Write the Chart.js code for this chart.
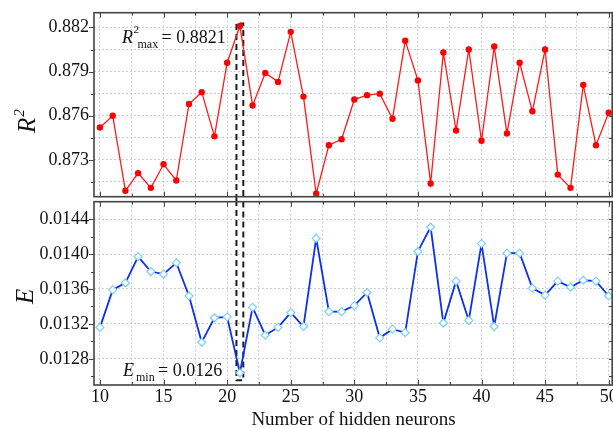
<!DOCTYPE html>
<html><head><meta charset="utf-8">
<script src="https://cdn.jsdelivr.net/npm/chart.js@4.4.0/dist/chart.umd.min.js"></script>
<style>
html,body{margin:0;padding:0;background:#fff;}
#wrap{position:relative;width:613px;height:428px;overflow:hidden;}
#c1{position:absolute;left:0;top:0;}
#c2{position:absolute;left:0;top:200px;}
</style></head><body>
<div id="wrap"><canvas id="c1" width="613" height="200"></canvas><canvas id="c2" width="613" height="228"></canvas></div>
<script>
const neurons = [10,11,12,13,14,15,16,17,18,19,20,21,22,23,24,25,26,27,28,29,30,31,32,33,34,35,36,37,38,39,40,41,42,43,44,45,46,47,48,49,50];
const r2Values = [0.8752,0.8760,0.8709,0.8721,0.8711,0.8727,0.8716,0.8768,0.8776,0.8746,0.8796,0.8821,0.8767,0.8789,0.8783,0.8817,0.8773,0.8707,0.8740,0.8744,0.8771,0.8774,0.8775,0.8758,0.8811,0.8784,0.8714,0.8803,0.8750,0.8805,0.8743,0.8807,0.8748,0.8796,0.8763,0.8805,0.8720,0.8711,0.8781,0.8740,0.8762];
const eValues = [0.01316,0.01359,0.01367,0.01397,0.01380,0.01377,0.01390,0.01352,0.01299,0.01327,0.01328,0.01264,0.01339,0.01307,0.01316,0.01333,0.01317,0.01418,0.01334,0.01334,0.01341,0.01356,0.01304,0.01314,0.01310,0.01403,0.01431,0.01321,0.01369,0.01324,0.01412,0.01317,0.01401,0.01401,0.01361,0.01353,0.01369,0.01362,0.01370,0.01369,0.01352];
const xTickLabels = [10,15,20,25,30,35,40,45,50];
const xGridValues = [10,12.5,15,17.5,20,22.5,25,27.5,30,32.5,35,37.5,40,42.5,45,47.5,50];
const r2TickLabels = [0.873,0.876,0.879,0.882];
const r2GridValues = [0.8715,0.873,0.8745,0.876,0.8775,0.879,0.8805,0.882];
const eTickLabels = [0.0128,0.0132,0.0136,0.0140,0.0144];
const eMinorValues = [0.0126,0.0130,0.0134,0.0138,0.0142];
const r2MaxText = '0.8821';
const eMinText = '0.0126';
const xTitle = 'Number of hidden neurons';

const FONT = 'Liberation Serif';
const GRID = '#c2d2d2';
const FRAME = '#444';
const bestIdx = r2Values.indexOf(Math.max(...r2Values));
const bestX = neurons[bestIdx];
const minIdx = eValues.indexOf(Math.min(...eValues));

function isIn(list, v){ return list.some(t => Math.abs(t - v) < 1e-9); }

function frameTicks(chart, yMajor, yMinor){
  const {ctx, chartArea:a, scales:{x, y}} = chart;
  ctx.save();
  ctx.strokeStyle = FRAME; ctx.lineWidth = 1;
  ctx.beginPath();
  xGridValues.forEach(v => {
    const px = Math.round(x.getPixelForValue(v)) + 0.5;
    const len = isIn(xTickLabels, v) ? 5 : 3;
    ctx.moveTo(px, a.bottom); ctx.lineTo(px, a.bottom - len);
    ctx.moveTo(px, a.top); ctx.lineTo(px, a.top + len);
  });
  const yt = yMajor.map(v => [v, 5]).concat(yMinor.map(v => [v, 3]));
  yt.forEach(([v, len]) => {
    const py = Math.round(y.getPixelForValue(v)) + 0.5;
    if (py < a.top - 1 || py > a.bottom + 1) return;
    ctx.moveTo(a.left, py); ctx.lineTo(a.left - len, py);
    ctx.moveTo(a.right, py); ctx.lineTo(a.right - 4, py);
  });
  ctx.stroke();
  ctx.lineWidth = 1.6;
  ctx.strokeRect(a.left, a.top, a.right - a.left - 0.8, a.bottom - a.top);
  ctx.restore();
}

function dashed(ctx, pts){
  ctx.save();
  ctx.strokeStyle = '#1e1e1e'; ctx.lineWidth = 2; ctx.setLineDash([6, 4]);
  ctx.beginPath();
  ctx.moveTo(pts[0][0], pts[0][1]);
  for (let i = 1; i < pts.length; i++) ctx.lineTo(pts[i][0], pts[i][1]);
  ctx.stroke();
  ctx.restore();
}

const topPlugin = {
  id: 'topDeco',
  beforeDatasetsDraw(chart){
    const {x, y} = chart.scales;
    const l = x.getPixelForValue(bestX - 0.27), r = x.getPixelForValue(bestX + 0.27);
    const t = y.getPixelForValue(r2Values[bestIdx]) - 2.5;
    dashed(chart.ctx, [[l, chart.height], [l, t], [r, t], [r, chart.height]]);
  },
  afterDraw(chart){
    frameTicks(chart, r2TickLabels, r2GridValues.filter(v => !isIn(r2TickLabels, v)));
    const ctx = chart.ctx;
    ctx.save();
    ctx.fillStyle = '#111'; ctx.textBaseline = 'alphabetic'; ctx.textAlign = 'left';
    ctx.font = 'italic 18px ' + FONT; ctx.fillText('R', 122, 43);
    ctx.font = '11px ' + FONT; ctx.fillText('2', 133.5, 33);
    ctx.font = '12px ' + FONT; ctx.fillText('max', 137.5, 48);
    ctx.font = '18px ' + FONT; ctx.fillText('= ' + r2MaxText, 161.5, 43);
    ctx.translate(35, 133); ctx.rotate(-Math.PI / 2);
    ctx.font = 'italic 25px ' + FONT; ctx.fillText('R', 0, 0);
    const w = ctx.measureText('R').width;
    ctx.font = 'italic 15px ' + FONT; ctx.fillText('2', w + 1, -11);
    ctx.restore();
  }
};

const botPlugin = {
  id: 'botDeco',
  beforeDatasetsDraw(chart){
    const {x, y} = chart.scales;
    const l = x.getPixelForValue(bestX - 0.27), r = x.getPixelForValue(bestX + 0.27);
    const b = y.getPixelForValue(eValues[minIdx]) + 7.5;
    dashed(chart.ctx, [[l, 0], [l, b], [r, b], [r, 0]]);
  },
  afterDraw(chart){
    frameTicks(chart, eTickLabels, eMinorValues);
    const ctx = chart.ctx;
    ctx.save();
    ctx.fillStyle = '#111'; ctx.textBaseline = 'alphabetic'; ctx.textAlign = 'left';
    ctx.font = 'italic 18px ' + FONT; ctx.fillText('E', 123, 175.5);
    ctx.font = '12px ' + FONT; ctx.fillText('min', 136, 181);
    ctx.font = '18px ' + FONT; ctx.fillText('= ' + eMinText, 158, 175.5);
    ctx.translate(33, 104); ctx.rotate(-Math.PI / 2);
    ctx.font = 'italic 25px ' + FONT; ctx.fillText('E', 0, 0);
    ctx.restore();
  }
};

function xScale(showLabels, height){
  return {
    type: 'linear', min: 9.53, max: 50.34,
    afterBuildTicks: s => { s.ticks = xGridValues.map(v => ({value: v})); },
    afterFit: s => { s.height = height; s.paddingLeft = 0; s.paddingRight = 0; s.paddingTop = 0; s.paddingBottom = 0; },
    grid: {display: true, drawTicks: false, color: GRID, lineWidth: 1},
    border: {display: false, dash: [2, 2]},
    ticks: {display: showLabels, padding: 1, maxRotation: 0, autoSkip: false, color: '#111',
      font: {family: FONT, size: 18},
      callback: v => isIn(xTickLabels, v) ? String(v) : ''},
    title: {display: showLabels, text: xTitle, color: '#111', font: {family: FONT, size: 19, lineHeight: 1}, padding: {top: 0, bottom: -2}}
  };
}

function yFit(s){ s.width = 94; s.paddingTop = 0; s.paddingBottom = 0; s.paddingLeft = 0; s.paddingRight = 0; }

const common = {
  responsive: false, animation: false, events: [],
  plugins: {legend: {display: false}, tooltip: {enabled: false}},
};

new Chart(document.getElementById('c1'), {
  type: 'line',
  data: {datasets: [{
    data: neurons.map((n, i) => ({x: n, y: r2Values[i]})),
    borderColor: '#ff1a1a', borderWidth: 1.3, pointRadius: 3.2, pointBackgroundColor: '#ff0000',
    pointBorderColor: '#ff0000', pointBorderWidth: 0, tension: 0, clip: false
  }]},
  options: Object.assign({}, common, {
    layout: {autoPadding: false, padding: {top: 12.7, right: 0, bottom: 0, left: 0}},
    scales: {
      x: xScale(false, 3.3),
      y: {
        min: 0.8705, max: 0.883,
        afterBuildTicks: s => { s.ticks = r2GridValues.map(v => ({value: v})); },
        afterFit: yFit,
        grid: {drawTicks: false, color: GRID},
        border: {display: false, dash: [2, 2]},
        ticks: {padding: 5, color: '#111', font: {family: FONT, size: 18},
          callback: v => isIn(r2TickLabels, v) ? v.toFixed(3) : ''}
      }
    }
  }),
  plugins: [topPlugin]
});

new Chart(document.getElementById('c2'), {
  type: 'line',
  data: {datasets: [{
    data: neurons.map((n, i) => ({x: n, y: eValues[i]})),
    borderColor: '#0d2ff0', borderWidth: 1.8, pointRadius: 4, pointStyle: 'rectRot',
    pointBackgroundColor: '#ffffff', pointBorderColor: '#7ccff7', pointBorderWidth: 1.2,
    tension: 0, clip: false
  }]},
  options: Object.assign({}, common, {
    layout: {autoPadding: false, padding: {top: 1.7, right: 0, bottom: 0, left: 0}},
    scales: {
      x: xScale(true, 43),
      y: {
        min: 0.0125, max: 0.0146,
        afterBuildTicks: s => { s.ticks = eTickLabels.map(v => ({value: v})); },
        afterFit: yFit,
        grid: {drawTicks: false, color: GRID},
        border: {display: false, dash: [2, 2]},
        ticks: {padding: 5, color: '#111', font: {family: FONT, size: 18},
          callback: v => v.toFixed(4)}
      }
    }
  }),
  plugins: [botPlugin]
});
</script>
</body></html>
